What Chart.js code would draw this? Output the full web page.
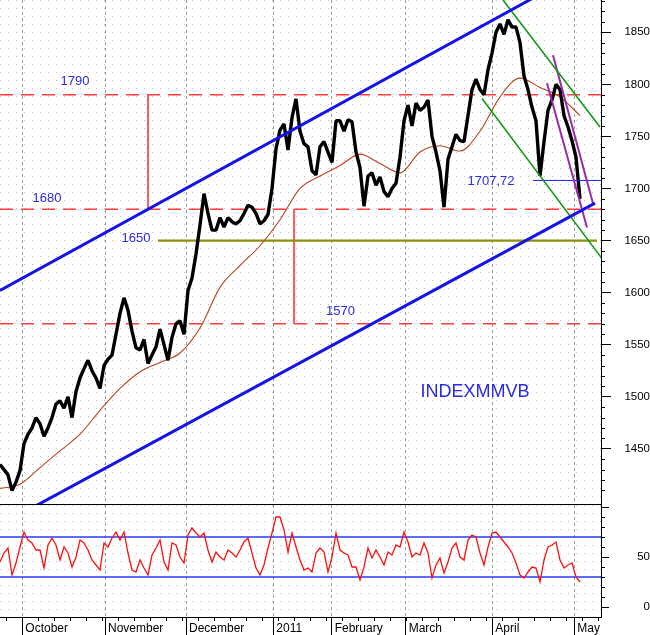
<!DOCTYPE html>
<html><head><meta charset="utf-8">
<script src="https://cdn.jsdelivr.net/npm/chart.js@4.4.1/dist/chart.umd.min.js"></script>
<style>
html,body{margin:0;padding:0;background:#fff;}
#wrap{width:650px;height:635px;position:relative;overflow:hidden;}
canvas{display:block;}
</style>
</head><body>
<div id="wrap"><canvas id="price" width="650" height="505"></canvas><canvas id="osc" width="650" height="130"></canvas></div>
<script>
const FONT = 'Arial, "Liberation Sans", sans-serif';

// ---- axes / categories ----
const monthLabels = ['October','November','December','2011','February','March','April','May'];
const monthStarts = [5.58, 26.25, 46.5, 68.33, 82.92, 101.42, 123.08, 143.58];
const xMax = 150.25;
const priceTicks = [1450,1500,1550,1600,1650,1700,1750,1800,1850];
const priceMin = 1397, priceMax = 1881;
const rsiTicks = [0, 50, 100];
const rsiMin = -10, rsiMax = 102;

// ---- series ----
const closePrices = [
1435,1430,1425,1410,1418,1429,1455,1464,1470,1480,
1474,1462,1470,1480,1493,1496,1489,1500,1480,1505,
1518,1527,1535,1525,1518,1508,1530,1536,1540,1560,
1580,1595,1583,1563,1547,1545,1555,1532,1540,1548,
1565,1550,1535,1557,1570,1573,1560,1602,1614,1637,
1665,1695,1676,1660,1660,1672,1663,1672,1668,1666,
1669,1676,1684,1682,1676,1666,1669,1675,1700,1738,
1756,1762,1737,1768,1786,1755,1743,1740,1717,1713,
1740,1745,1735,1725,1765,1765,1755,1766,1764,1735,
1720,1683,1712,1715,1703,1711,1697,1692,1700,1705,
1730,1765,1780,1760,1782,1775,1778,1785,1750,1735,
1717,1682,1728,1740,1752,1746,1745,1770,1795,1805,
1795,1790,1814,1830,1850,1858,1848,1862,1855,1855,
1840,1808,1795,1778,1765,1712,1745,1775,1785,1800,
1795,1770,1759,1746,1730,1690];
const maDays = [0,5,10,15,20,25,30,35,40,45,50,55,60,65,70,75,80,85,90,95,100,105,110,115,120,125,130,135,140,145];
const maValues = [1412,1416,1432,1448,1464,1487,1508,1524,1533,1542,1566,1605,1626,1645,1670,1700,1712,1722,1733,1724,1715,1735,1741,1736,1755,1788,1806,1797,1788,1770];
const rsiValues = [
45,54,59,32,44,60,75,67,64,57,
57,39,62,69,62,47,60,54,40,50,
67,64,57,47,42,37,64,60,69,75,
67,75,54,37,35,47,39,32,52,59,
67,45,37,64,62,50,44,72,79,74,
70,74,57,45,55,50,47,57,54,50,
57,65,69,54,39,32,42,59,74,90,
90,77,55,74,60,47,37,39,35,54,
59,55,35,50,74,57,54,52,40,40,
27,40,59,49,57,50,42,55,52,62,
60,75,65,50,54,52,64,54,29,42,
49,34,45,59,64,50,47,67,72,70,
54,42,60,74,75,70,65,60,54,44,
32,29,35,40,39,25,47,60,62,65,
47,39,42,44,30,25];

// ---- levels and drawn lines (day index, price) ----
const resistanceLevels = [1790, 1680, 1570];
const supportLevel = 1650;
const supportSpan = [39.5, 149.25];
const lastCloseLevel = 1707.72;
const lastCloseSpan = [133.25, 150.25];
const rsiBands = [70, 30];
const channelUpper = [[0,1602],[150.25,1918.7]];
const channelLower = [[0,1376.6],[148.75,1686]];
const greenUpper = [[125.75,1881],[150,1759]];
const greenLower = [[120.5,1786.5],[150.5,1632.7]];
const purpleOuter = [[138.25,1828],[148.25,1685.6]];
const purpleInner = [[136.75,1801],[146.75,1662.5]];
const targetUp = [[37,1790],[37,1680]];
const targetDown = [[73.5,1680],[73.5,1570]];

const notes = [
  {text:'1790', x:18.75, y:1802.5, size:13},
  {text:'1680', x:11.75, y:1690.5, size:13},
  {text:'1650', x:34, y:1652, size:13},
  {text:'1570', x:85.1, y:1582, size:13},
  {text:'1707,72', x:122.75, y:1707.2, size:13},
  {text:'INDEXMMVB', x:118.75, y:1505, size:18}
];

// ---- helpers ----
const pts = arr => arr.map(([x,y]) => ({x, y}));
const line = (data, color, width, extra={}) => Object.assign({
  type:'line', data, borderColor:color, borderWidth:width, pointRadius:0, fill:false, tension:0
}, extra);

const dotsPlugin = {
  id:'dots',
  beforeDraw(chart){
    const {ctx, chartArea:a} = chart;
    const c = document.createElement('canvas'); c.width = 8; c.height = 8;
    const g = c.getContext('2d'); g.fillStyle = '#bdbdbd'; g.fillRect(0,0,1,1);
    ctx.save(); ctx.fillStyle = ctx.createPattern(c,'repeat');
    ctx.fillRect(a.left, a.top, a.right-a.left, a.bottom-a.top); ctx.restore();
  }
};
const notesPlugin = {
  id:'notes',
  afterDatasetsDraw(chart, args, opts){
    const items = opts.items || [];
    const {ctx, scales:{x, y}} = chart;
    items.forEach(n => {
      ctx.save();
      ctx.font = n.size + 'px ' + FONT; ctx.fillStyle = '#2a2ae6';
      ctx.textAlign = 'center'; ctx.textBaseline = 'middle';
      ctx.fillText(n.text, x.getPixelForValue(n.x), y.getPixelForValue(n.y));
      ctx.restore();
    });
  }
};
const minorTicksPlugin = {
  id:'minorTicks',
  afterDraw(chart, args, o){
    const {ctx} = chart;
    ctx.save(); ctx.strokeStyle = '#000'; ctx.lineWidth = 1;
    if (o.yStep){
      const ys = chart.scales.y;
      for (let v = Math.max(0, Math.ceil(ys.min/o.yStep)*o.yStep); v <= ys.max; v += o.yStep){
        if (v % o.yMajor === 0) continue;
        const p = Math.round(ys.getPixelForValue(v)) + 0.5;
        ctx.beginPath(); ctx.moveTo(ys.left, p); ctx.lineTo(ys.left + o.yLen, p); ctx.stroke();
      }
    }
    if (o.xStep){
      const xs = chart.scales.x;
      for (let v = o.xStart; v <= xs.max; v += o.xStep){
        const p = Math.round(xs.getPixelForValue(v)) + 0.5;
        ctx.beginPath(); ctx.moveTo(p, xs.top); ctx.lineTo(p, xs.top + o.xLen); ctx.stroke();
      }
    }
    ctx.restore();
  }
};

const xHidden = {
  type:'linear', min:0, max:xMax,
  afterBuildTicks: s => { s.ticks = monthStarts.map(v => ({value:v})); },
  afterFit: s => { s.height = 1; s.paddingLeft = 0; s.paddingRight = 0; },
  grid:{color:'#9c9c9c', drawTicks:false},
  border:{display:true, color:'#000', dash:[3,3]},
  ticks:{display:false}
};

// ---- price panel ----
const priceSets = [
  line(pts(channelUpper), '#1414e6', 3),
  line(pts(channelLower), '#1414e6', 3),
  line(pts(greenUpper), '#119a11', 1.6),
  line(pts(greenLower), '#119a11', 1.6),
  line(pts(purpleOuter), '#9a2aaa', 2),
  line(pts(purpleInner), '#9a2aaa', 2),
  line([{x:lastCloseSpan[0], y:lastCloseLevel},{x:lastCloseSpan[1], y:lastCloseLevel}], '#1a1aff', 1),
  line(closePrices.map((v,i) => ({x:i, y:v})), '#000', 3.4, {borderJoinStyle:'bevel'}),
  line(maDays.map((d,i) => ({x:d, y:maValues[i]})), '#b8431c', 1.1, {tension:0.4, cubicInterpolationMode:'monotone'}),
  line([{x:supportSpan[0], y:supportLevel},{x:supportSpan[1], y:supportLevel}], '#8f8f0c', 2.2),
  ...resistanceLevels.map(v => line([{x:0, y:v},{x:xMax, y:v}], '#ff3b3b', 1.5, {borderDash:[13,8]})),
  line(pts(targetUp), '#ff4a4a', 1),
  line(pts(targetDown), '#ff4a4a', 1)
];

new Chart(document.getElementById('price'), {
  type:'line',
  data:{datasets: priceSets},
  options:{
    responsive:false, animation:false, events:[],
    layout:{padding:0},
    plugins:{legend:{display:false}, tooltip:{enabled:false},
      notes:{items:notes},
      minorTicks:{yStep:10, yMajor:50, yLen:4}},
    scales:{
      x: xHidden,
      y:{
        type:'linear', position:'right', min:priceMin, max:priceMax,
        afterBuildTicks: s => { s.ticks = priceTicks.map(v => ({value:v})); },
        afterFit: s => { s.width = 49; s.paddingTop = 0; s.paddingBottom = 0; },
        grid:{drawOnChartArea:false, tickLength:10, tickColor:'#000'},
        border:{display:true, color:'#000', width:1},
        ticks:{color:'#000', font:{family:FONT, size:11.5}, padding:8, crossAlign:'far', callback: v => String(v)}
      }
    }
  },
  plugins:[dotsPlugin, notesPlugin, minorTicksPlugin]
});

// ---- oscillator panel ----
const oscSets = [
  line(rsiValues.map((v,i) => ({x:i, y:v})), '#ff1010', 1.3),
  ...rsiBands.map(v => line([{x:0, y:v},{x:xMax, y:v}], '#2a3cff', 1.5))
];

new Chart(document.getElementById('osc'), {
  type:'line',
  data:{datasets: oscSets},
  options:{
    responsive:false, animation:false, events:[],
    layout:{padding:0},
    plugins:{legend:{display:false}, tooltip:{enabled:false},
      minorTicks:{yStep:10, yMajor:50, yLen:4, xStep:4, xStart:1.58, xLen:4}},
    scales:{
      x:{
        type:'linear', min:0, max:xMax, position:'bottom',
        afterBuildTicks: s => { s.ticks = monthStarts.map(v => ({value:v})); },
        afterFit: s => { s.height = 18; s.paddingLeft = 0; s.paddingRight = 0; },
        grid:{color:'#9c9c9c', tickLength:18, tickColor:'#000'},
        border:{display:true, color:'#000', dash:[3,3]},
        ticks:{autoSkip:false, maxRotation:0, minRotation:0, align:'start', labelOffset:3, padding:-14,
          color:'#000', font:{family:FONT, size:12}, callback:(v,i) => monthLabels[i]}
      },
      y:{
        type:'linear', position:'right', min:rsiMin, max:rsiMax,
        afterBuildTicks: s => { s.ticks = rsiTicks.map(v => ({value:v})); },
        afterFit: s => { s.width = 49; s.paddingTop = 0; s.paddingBottom = 0; },
        grid:{drawOnChartArea:false, tickLength:8, tickColor:'#000'},
        border:{display:true, color:'#000', width:1},
        ticks:{color:'#000', font:{family:FONT, size:11.5}, padding:24, crossAlign:'far', callback: v => v === 100 ? '' : String(v)}
      }
    }
  },
  plugins:[dotsPlugin, minorTicksPlugin]
});
</script>
</body></html>
